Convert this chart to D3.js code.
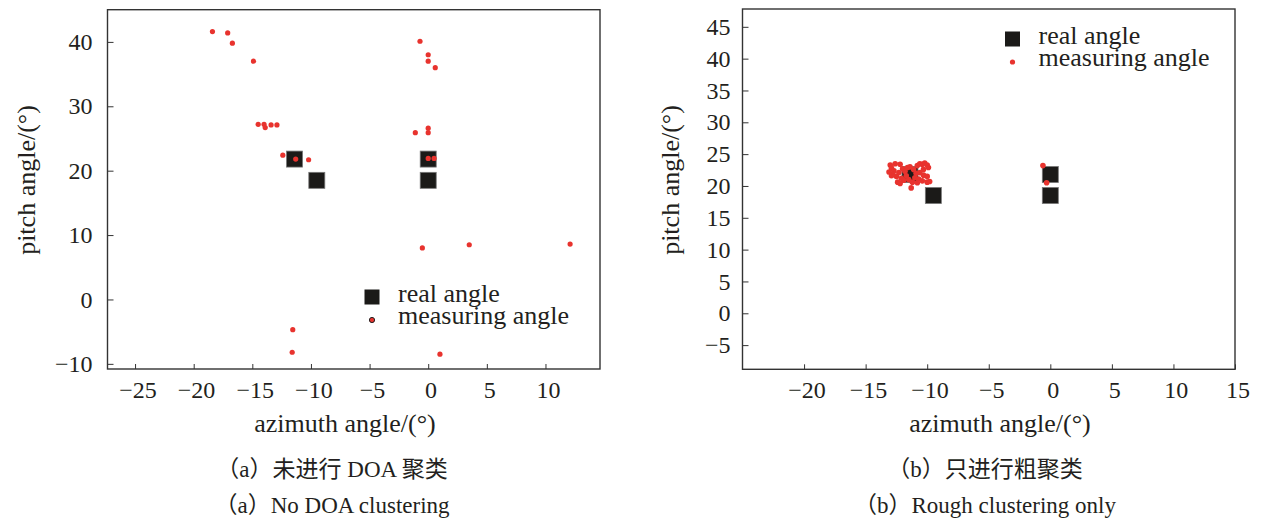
<!DOCTYPE html>
<html>
<head>
<meta charset="UTF-8">
<title>DOA clustering</title>
<script src="https://d3js.org/d3.v7.min.js"></script>
<style>
  body { margin: 0; background: #fff; }
  text { font-family: "Liberation Serif", "Times New Roman", "Noto Sans CJK SC", serif; fill: #231f20; }
  .tick line { stroke: #333; }
  .domain { display: none; }
</style>
</head>
<body>
<script>
// real target angles [azimuth, pitch]
var realAngles = [[-11.4, 21.8], [-9.5, 18.5], [0, 21.8], [0, 18.5]];

// (a) no DOA clustering: measured angles
var measuredA = [
    [-18.4, 41.6], [-17.1, 41.4], [-16.7, 39.8], [-14.9, 37.0],
    [-14.5, 27.2], [-14.0, 27.2], [-13.9, 26.7], [-13.4, 27.1], [-12.9, 27.1],
    [-12.4, 22.4], [-11.3, 21.8], [-10.2, 21.7],
    [-0.7, 40.1], [0.0, 38.0], [0.0, 37.0], [0.6, 36.0],
    [-1.1, 25.9], [0.0, 26.6], [0.0, 25.9], [0.0, 21.9], [0.5, 21.9],
    [-0.5, 8.0], [3.5, 8.5], [12.1, 8.6],
    [-11.55, -4.7], [-11.6, -8.2], [1.0, -8.5]
];

// (b) rough clustering only: measured angles
var measuredB = [
    [-13.0, 23.3], [-12.9, 22.8], [-12.7, 22.4], [-12.8, 21.9], [-12.5, 21.5],
    [-12.3, 22.1], [-12.6, 23.5], [-12.2, 23.4], [-12.0, 22.7], [-12.1, 21.2],
    [-11.9, 20.9], [-12.4, 20.6], [-11.7, 21.6], [-11.8, 22.3], [-11.5, 21.0],
    [-11.3, 19.7], [-11.2, 20.6], [-11.0, 21.3], [-10.9, 22.0], [-11.1, 22.6],
    [-10.8, 23.2], [-10.6, 23.5], [-10.4, 23.4], [-10.2, 23.6], [-10.0, 23.3],
    [-9.9, 22.9], [-10.3, 22.6], [-10.6, 22.1], [-10.3, 21.7], [-10.0, 21.5],
    [-10.7, 21.1], [-10.4, 20.8], [-10.0, 20.6], [-9.8, 20.7], [-11.6, 22.9],
    [-12.9, 21.6], [-13.1, 22.2], [-11.4, 23.0], [-10.8, 20.5], [-12.2, 20.4],
    [-0.6, 23.2], [-0.3, 20.5]
];

var xTicksA = [-25, -20, -15, -10, -5, 0, 5, 10];
var yTicksA = [-10, 0, 10, 20, 30, 40];
var xTicksB = [-20, -15, -10, -5, 0, 5, 10, 15];
var yTicksB = [-5, 0, 5, 10, 15, 20, 25, 30, 35, 40, 45];

var legendLabels = ["real angle", "measuring angle"];
var xTitle = "azimuth angle/(°)";
var yTitle = "pitch angle/(°)";
var captionsA = ["（a）未进行 DOA 聚类", "（a）No DOA clustering"];
var captionsB = ["（b）只进行粗聚类", "（b）Rough clustering only"];

var w = 1262, h = 520;
var red = "#e8332e";

var svg = d3.select("body").append("svg")
    .attr("width", w)
    .attr("height", h);

function panel(opt) {
    var x = d3.scaleLinear().domain(opt.xDomain).range([opt.left, opt.right]);
    var y = d3.scaleLinear().domain(opt.yDomain).range([opt.bottom, opt.top]);
    var g = svg.append("g");

    g.append("g")
        .attr("transform", "translate(0," + opt.bottom + ")")
        .call(d3.axisBottom(x).tickValues(opt.xTicks).tickSize(-5).tickPadding(12))
        .selectAll("text").style("font-size", "24px").attr("dx", "0.1em");

    g.append("g")
        .attr("transform", "translate(" + opt.left + ",0)")
        .call(d3.axisLeft(y).tickValues(opt.yTicks).tickSize(-6).tickPadding(opt.yPad))
        .selectAll("text").style("font-size", "24px");

    g.selectAll(".tick text").attr("fill", "#231f20");

    g.append("rect")
        .attr("x", opt.left).attr("y", opt.top)
        .attr("width", opt.right - opt.left).attr("height", opt.bottom - opt.top)
        .attr("fill", "none").attr("stroke", "#333").attr("stroke-width", 1.4);

    g.selectAll("rect.real")
        .data(realAngles)
        .enter()
        .append("rect")
        .attr("class", "real")
        .attr("x", function (d) { return x(d[0]) - 8; })
        .attr("y", function (d) { return y(d[1]) - 8; })
        .attr("width", 16).attr("height", 16)
        .attr("fill", "#1b1a18").attr("stroke", "#777").attr("stroke-width", 0.8);

    g.selectAll("circle.meas")
        .data(opt.points)
        .enter()
        .append("circle")
        .attr("class", "meas")
        .attr("cx", function (d) { return x(d[0]); })
        .attr("cy", function (d) { return y(d[1]); })
        .attr("r", opt.r)
        .attr("fill", red);

    // legend
    var lg = g.append("g").attr("transform", "translate(" + opt.legend[0] + "," + opt.legend[1] + ")");
    lg.append("rect").attr("x", -7.5).attr("y", -7.5).attr("width", 15).attr("height", 15)
        .attr("fill", "#1b1a18");
    lg.append("circle").attr("cx", 0).attr("cy", 23).attr("r", 2.6)
        .attr("fill", red)
        .attr("stroke", opt.legendStroke ? "#231f20" : "none").attr("stroke-width", 1);
    lg.selectAll("text.leg")
        .data(legendLabels)
        .enter()
        .append("text")
        .attr("class", "leg")
        .attr("x", 26)
        .attr("y", function (d, i) { return 5 + i * 22; })
        .style("font-size", "26px")
        .text(function (d) { return d; });

    g.append("text")
        .attr("x", opt.xTitleX).attr("y", 432)
        .attr("text-anchor", "middle")
        .style("font-size", "26px")
        .text(xTitle);

    g.append("text")
        .attr("transform", "translate(" + opt.yTitleX + "," + 180 + ") rotate(-90)")
        .attr("text-anchor", "middle")
        .style("font-size", "26px")
        .text(yTitle);

    g.selectAll("text.cap")
        .data(opt.captions)
        .enter()
        .append("text")
        .attr("class", "cap")
        .attr("x", opt.capX)
        .attr("y", function (d, i) { return 477 + i * 36; })
        .attr("text-anchor", "middle")
        .style("font-size", "23px")
        .text(function (d) { return d; });
}

panel({
    xDomain: [-27.35, 14.65], yDomain: [-10.8, 45],
    left: 107.5, right: 600, top: 9.7, bottom: 369,
    xTicks: xTicksA, yTicks: yTicksA, yPad: 15,
    points: measuredA, r: 2.6,
    legend: [372, 297], legendStroke: true,
    xTitleX: 345, yTitleX: 35, capX: 332,
    captions: captionsA
});

panel({
    xDomain: [-25, 15], yDomain: [-8.8, 47.8],
    left: 742.5, right: 1235, top: 9, bottom: 369.3,
    xTicks: xTicksB, yTicks: yTicksB, yPad: 12,
    points: measuredB, r: 2.8,
    legend: [1012.5, 39], legendStroke: false,
    xTitleX: 1000, yTitleX: 679, capX: 985,
    captions: captionsB
});
</script>
</body>
</html>
